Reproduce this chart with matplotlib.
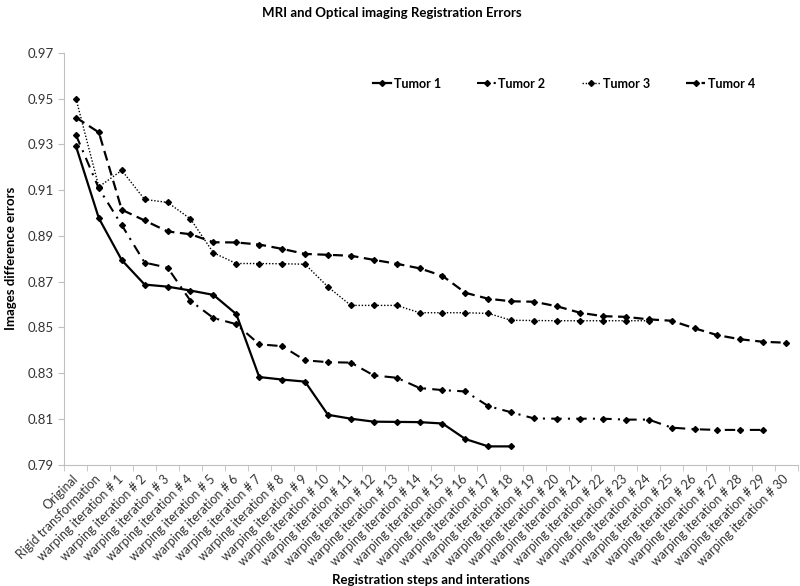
import numpy as np
import matplotlib.pyplot as plt

# Category labels on the x axis
steps = ["Original", "Rigid transformation"] + [f"warping iteration # {i}" for i in range(1, 31)]

# Values
tumor1 = [0.9292, 0.8977, 0.8794, 0.8687, 0.8678, 0.8661, 0.8642, 0.8558, 0.8283, 0.8272,
          0.8263, 0.8118, 0.8101, 0.8088, 0.8087, 0.8086, 0.8080, 0.8012, 0.7980, 0.7980]
tumor2 = [0.9341, 0.9107, 0.8947, 0.8783, 0.8761, 0.8616, 0.8541, 0.8514, 0.8426, 0.8418,
          0.8356, 0.8348, 0.8346, 0.8290, 0.8280, 0.8235, 0.8226, 0.8220, 0.8156, 0.8129,
          0.8102, 0.8101, 0.8101, 0.8101, 0.8097, 0.8097, 0.8062, 0.8055, 0.8052, 0.8052,
          0.8052]
tumor3 = [0.9500, 0.9114, 0.9186, 0.9059, 0.9046, 0.8974, 0.8826, 0.8779, 0.8779, 0.8778,
          0.8776, 0.8677, 0.8596, 0.8596, 0.8596, 0.8564, 0.8564, 0.8564, 0.8561, 0.8531,
          0.8530, 0.8529, 0.8529, 0.8529, 0.8529, 0.8529]
tumor4 = [0.9417, 0.9352, 0.9014, 0.8967, 0.8919, 0.8907, 0.8872, 0.8871, 0.8862, 0.8843,
          0.8821, 0.8817, 0.8813, 0.8795, 0.8778, 0.8758, 0.8725, 0.8651, 0.8625, 0.8614,
          0.8612, 0.8592, 0.8564, 0.8549, 0.8546, 0.8535, 0.8529, 0.8496, 0.8466, 0.8448,
          0.8437, 0.8433]

plt.rcParams['font.family'] = ['Lato', 'DejaVu Sans']

fig = plt.figure(figsize=(8, 5.86), dpi=100)
ax = fig.add_axes([0.0806, 0.207, 0.9164, 0.703])

styles = [
    (tumor1, "Tumor 1", dict(linestyle='-', linewidth=1.6)),
    (tumor2, "Tumor 2", dict(linestyle=(0, (5, 3, 1, 3)), linewidth=1.5)),
    (tumor3, "Tumor 3", dict(linestyle=(0, (1, 1.3)), linewidth=1.0)),
    (tumor4, "Tumor 4", dict(linestyle=(0, (4.5, 2.5)), linewidth=1.6)),
]
for vals, name, st in styles:
    ax.plot(np.arange(len(vals)), vals, color='black', marker='D', markersize=3,
            label=name, **st)

ax.set_xlim(-0.5, len(steps) - 0.5)
ax.set_ylim(0.79, 0.97)
ax.set_yticks(np.arange(0.79, 0.971, 0.02))
ax.yaxis.set_major_formatter(plt.FormatStrFormatter('%.2f'))

ax.set_xticks(np.arange(len(steps)))
ax.set_xticklabels(steps, rotation=45, ha='right', va='center', rotation_mode='anchor')
ax.set_xticks(np.arange(len(steps) + 1) - 0.5, minor=True)
ax.tick_params(axis='x', which='major', length=0, pad=9, labelsize=9, labelcolor='#333333')
ax.tick_params(axis='x', which='minor', length=4, color='#bfbfbf')
ax.tick_params(axis='y', length=4, color='#bfbfbf', labelsize=9.5, labelcolor='#333333')

for s in ['top', 'right']:
    ax.spines[s].set_visible(False)
for s in ['left', 'bottom']:
    ax.spines[s].set_color('#bfbfbf')

ax.set_ylabel("Images difference errors", fontsize=9.5, fontweight='bold', labelpad=8)
ax.set_xlabel("Registration steps and interations", fontsize=9.5, fontweight='bold', labelpad=4)
fig.text(0.49, 0.977, "MRI and Optical imaging Registration Errors", ha='center', va='center',
         fontsize=9.5, fontweight='bold')

leg = ax.legend(loc='center', bbox_to_anchor=(0.681, 0.925), ncol=4, frameon=False,
                handlelength=1.5, columnspacing=2.9, handletextpad=0.2,
                prop={'weight': 'bold', 'size': 9})

fig.savefig('out.png', dpi=100)
